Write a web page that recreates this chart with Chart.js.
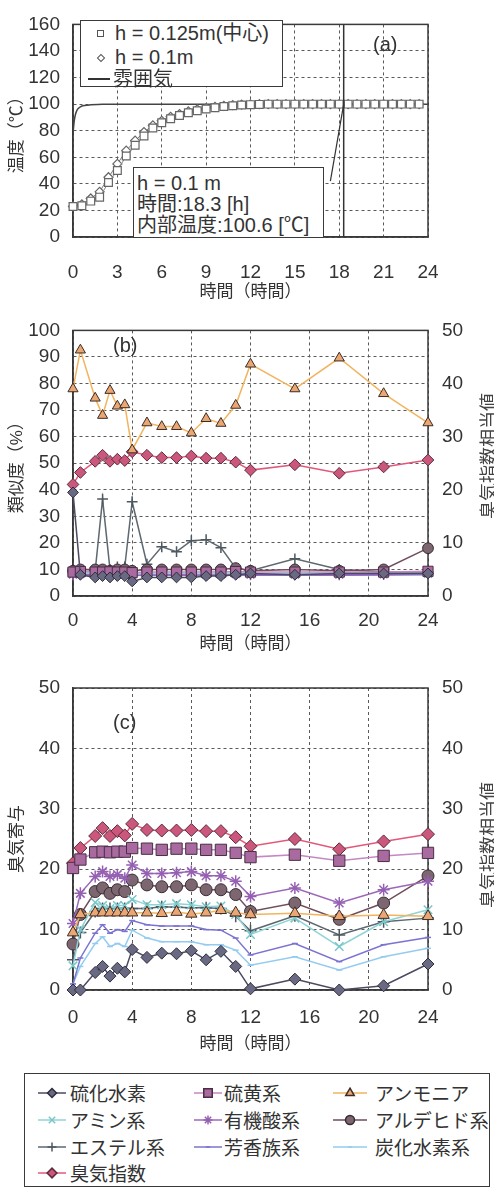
<!DOCTYPE html>
<html lang="ja"><head><meta charset="utf-8">
<script src="https://cdn.jsdelivr.net/npm/chart.js@4.4.1/dist/chart.umd.min.js"></script>
<style>
html,body{margin:0;padding:0;background:#fff;}
body{width:494px;height:1188px;position:relative;overflow:hidden;font-family:"Liberation Sans","Noto Sans CJK JP",sans-serif;color:#333;}
canvas{position:absolute;left:0;}
.abs{position:absolute;white-space:nowrap;line-height:22px;}
.box{position:absolute;background:#fff;border:1px solid #3a3a3a;box-sizing:border-box;}
.vt{position:absolute;white-space:nowrap;transform:translate(-50%,-50%) rotate(-90deg);font-size:18px;line-height:20px;font-family:"Noto Sans CJK JP",sans-serif;color:#444;}
.sq{position:absolute;width:7px;height:7px;border:1.2px solid #555;box-sizing:border-box;}
</style></head><body>
<canvas id="ca" width="494" height="305" style="top:0"></canvas>
<canvas id="cb" width="494" height="355" style="top:305px"></canvas>
<canvas id="cc" width="494" height="410" style="top:660px"></canvas>

<!-- panel (a) overlays -->
<div class="box" style="left:80px;top:20px;width:203px;height:67px;">
  <div class="sq" style="left:16px;top:9px;"></div>
  <div class="abs" style="left:34px;top:1px;font-size:20px;">h = 0.125m(中心)</div>
  <div class="sq" style="left:17px;top:34px;width:6px;height:6px;transform:rotate(45deg);"></div>
  <div class="abs" style="left:34px;top:25px;font-size:20px;">h = 0.1m</div>
  <div style="position:absolute;left:7px;top:57px;width:22px;height:1.5px;background:#333;"></div>
  <div class="abs" style="left:32px;top:47px;font-size:20px;">雰囲気</div>
</div>
<div class="box" style="left:133px;top:167px;width:191px;height:71px;">
  <div class="abs" style="left:3px;top:4px;font-size:20px;">h = 0.1 m</div>
  <div class="abs" style="left:3px;top:25px;font-size:20px;">時間:18.3 [h]</div>
  <div class="abs" style="left:3px;top:46px;font-size:20px;">内部温度:100.6 [℃]</div>
</div>
<div class="abs" style="left:373px;top:33px;font-size:20px;">(a)</div>
<div class="abs" style="left:113px;top:334px;font-size:20px;">(b)</div>
<div class="abs" style="left:113px;top:711px;font-size:20px;">(c)</div>
<div class="vt" style="left:487px;top:456px;">臭気指数相当値</div>
<div class="vt" style="left:487px;top:845px;">臭気指数相当値</div>
<div class="box" id="legend" style="left:24px;top:1073px;width:466px;height:114px;"></div>

<script>
// ---------- Panel (a): temperature ----------
const timeA = [0,0.6,1.2,1.8,2.4,3.0,3.6,4.2,4.8,5.4,6.0,6.6,7.2,7.8,8.4,9.0,9.6,10.2,10.8,11.4,12.0,12.6,13.2,13.8,14.4,15.0,15.6,16.2,16.8,17.4,18.0,18.6,19.2,19.8,20.4,21.0,21.6,22.2,22.8,23.4];
const tempCenter = [23,23.5,27,30,41,50,61,69,76,82,86,89,91.5,93.5,95,96.3,97.3,98.2,98.8,99.3,99.6,99.8,100,100,100,100,100,100,100,100,100,100,100,100,100,100,100,100,100,100];
const tempH01 = [23,24.5,29,34,45,55,65,72.5,79,84,87.5,90.5,92.5,94.5,96,97,98,98.7,99.2,99.6,99.8,100,100,100,100,100,100,100,100,100,100,100,100,100,100,100,100,100,100,100];
const timeAtm = [0,0.08,0.16,0.3,0.5,0.8,1.2,2,24];
const tempAtm = [78,87,92,96,98,99,99.5,100,100];
const markTime = 18.3;
const leaderFrom = [17.4, 42];
const leaderTo = [18.3, 100];

// ---------- Panels (b) and (c) ----------
const timeBC = [0,0.5,1.5,2,2.5,3,3.5,4,5,6,7,8,9,10,11,12,15,18,21,24];
const seriesNames = ['硫化水素','硫黄系','アンモニア','アミン系','有機酸系','アルデヒド系','エステル系','芳香族系','炭化水素系','臭気指数'];

// (b) similarity (%)
const simH2S      = [39,8,7,7.5,7,7.5,7.5,5.5,7,7,7,7,7.5,7.5,8,8.5,8,8.5,8.5,8.5];
const simSulfur   = [9,9.2,9,9,9.1,9,9,8.8,9,9,9,9,9,9,9.2,9,9,9,9,9.3];
const simAmmonia  = [78,92.6,74.5,68,77.4,71.5,72,55,65.2,63.8,63.8,61.4,66.8,65,71.8,87.3,78,89.6,76.2,65.2];
const simAmine    = [8.5,8.8,8.6,8.4,8.7,8.5,8.6,8.3,8.6,8.5,8.7,8.5,8.6,8.4,8.8,8.6,8.5,8.7,8.6,8.5];
const simOrganic  = [8,8.2,8,8,8.1,8,8,7.8,8,8,8,8,8,8,8.2,8,8,8,8.1,8.3];
const simAldehyde = [9.5,10,10,10,9.5,10,10,9.5,10,10,10,10,10,10,10.5,9.5,10,9.5,10,18];
const simEster    = [8.5,9,9.5,36.5,10,11,11,35.5,12,18.5,16.7,20.8,21.2,18.2,10.5,9.5,14,10,9,9];
const simAromatic = [7.8,7.9,7.8,7.8,7.9,7.8,7.8,7.7,7.8,7.8,7.8,7.8,7.8,7.8,7.9,7.8,7.8,7.8,7.9,8];
const simHydro    = [8.3,8.4,8.3,8.3,8.3,8.3,8.3,8.2,8.3,8.3,8.3,8.3,8.3,8.3,8.4,8.3,8.3,8.3,8.3,8.4];
const simOdor     = [42,46.5,50.7,53,50.7,51.5,51,54.3,53,52.1,52.1,52.7,51.9,51.9,50.4,47.4,49.4,46.2,48.6,51.2];

// (c) odour contribution
const conH2S      = [0,0,2.9,3.9,2.3,3.6,3.0,6.7,5.4,6.1,6.0,6.5,5.0,6.4,3.9,0.2,1.8,0,0.7,4.3];
const conSulfur   = [20.2,21.6,22.8,22.9,22.8,22.9,22.9,23.5,23.4,23.2,23.4,23.4,23.2,23.2,22.7,22.0,22.4,21.4,22.2,22.7];
const conAmmonia  = [9.5,12.5,12.8,12.8,12.8,12.8,12.8,12.8,12.8,12.7,12.9,12.6,12.8,13.2,12.8,12.5,12.7,12.2,12.4,12.2];
const conAmine    = [4,10,14.5,14,13.5,14,14,15,14.1,14.1,14.3,14.1,13.8,13.9,12.5,9.2,11.9,7.2,11.3,13.3];
const conOrganic  = [11,16,18.8,19.6,18.8,19.1,18.5,20.7,19.3,19.3,19.4,19.6,18.9,18.9,18.0,15.5,16.9,14.4,16.6,18.0];
const conAldehyde = [7.6,12.5,16.3,16.9,16.0,16.6,16.3,18.2,17.4,17.1,17.1,17.4,16.6,16.6,15.8,13.0,14.4,11.7,14.4,18.9];
const conEster    = [5,9.5,13,13.5,13.5,13.5,13.5,13.5,13.5,13.8,13.7,13.6,13.6,13.5,12.2,9.8,12.3,9.1,11.3,11.9];
const conAromatic = [1,5.3,9.4,10.8,9.4,10.0,9.7,11.5,10.8,10.6,10.6,10.6,10.0,9.9,8.6,5.8,7.7,4.7,7.5,8.7];
const conHydro    = [1,3.9,7.7,8.8,7.2,7.7,7.2,9.9,8.6,8.0,8.0,8.0,7.5,7.5,6.6,4.1,5.5,3.3,5.5,6.9];
const conOdor     = [21.0,23.5,25.5,26.8,25.5,26.3,25.6,27.5,26.5,26.4,26.4,26.5,26.3,26.3,25.3,23.8,25.0,23.3,24.6,25.8];

// ---------- styles ----------
const STY = [
  {line:'#4b4a60', fill:'#6a6983', bd:'#2d2c3a', style:'rectRot', r:6},
  {line:'#c489c2', fill:'#a86a9f', bd:'#4a2e46', style:'rect', r:8},
  {line:'#f2b45e', fill:'#eaa673', bd:'#3b2c26', style:'triangle', r:6.5},
  {line:'#8fd4d6', fill:'#8fd4d6', bd:'#79c6c9', style:'crossRot', r:6},
  {line:'#9d67b9', fill:'#9d67b9', bd:'#9560b2', style:'star', r:6},
  {line:'#6f4d5d', fill:'#7c6670', bd:'#3a2c33', style:'circle', r:6},
  {line:'#5d6870', fill:'#5d6870', bd:'#4d5860', style:'cross', r:6},
  {line:'#7b73d2', fill:'#7b73d2', bd:'#7b73d2', style:'line', r:3},
  {line:'#93ccf0', fill:'#93ccf0', bd:'#93ccf0', style:'line', r:3},
  {line:'#e2587a', fill:'#cc577c', bd:'#5c2a3c', style:'rectRot', r:6.5}
];

const FN = '"Liberation Sans", Arial, sans-serif';
const FJ = '"Liberation Sans", "Noto Sans CJK JP", sans-serif';
const AXC = '#3a3a3a', GRC = '#5a5a5a', TXC = '#333';

function pts(xs, ys){ return ys.map((y,i)=>({x:xs[i], y:y})); }

function xAxis(step, tickPad, titlePad, h){
  return {type:'linear', position:'bottom', min:0, max:24,
    ticks:{stepSize:step, padding:tickPad, color:TXC, font:{family:FN,size:19}, maxRotation:0, autoSkip:false},
    grid:{color:GRC, lineWidth:1, drawTicks:false},
    border:{display:true, color:AXC, width:1.5, dash:[3,3]},
    title:{display:true, text:'時間（時間）', color:TXC, font:{family:FJ,size:17}, padding:{top:0,bottom:titlePad}},
    afterFit(s){ s.height = h; }
  };
}
function yLeft(max, step, title){
  return {type:'linear', position:'left', min:0, max:max,
    ticks:{stepSize:step, padding:13, color:TXC, font:{family:FN,size:19}},
    grid:{color:GRC, lineWidth:1, drawTicks:false},
    border:{display:true, color:AXC, width:1.5, dash:[3,3]},
    title:{display:true, text:title, color:TXC, font:{family:FJ,size:17}, padding:{top:7,bottom:0}},
    afterFit(s){ s.width = 73; }
  };
}
function yRight(){
  return {type:'linear', position:'right', min:0, max:50,
    ticks:{stepSize:10, padding:14, color:TXC, font:{family:FN,size:19}},
    grid:{drawOnChartArea:false, drawTicks:false},
    border:{display:false},
    afterFit(s){ s.width = 66; }
  };
}

const framePlugin = {id:'frame', beforeDatasetsDraw(chart){
  const {ctx, chartArea:a} = chart;
  ctx.save(); ctx.strokeStyle = AXC; ctx.lineWidth = 1.5;
  ctx.strokeRect(a.left, a.top, a.right-a.left, a.bottom-a.top);
  ctx.restore();
}};

const annotA = {id:'annotA', afterDatasetsDraw(chart){
  const {ctx, scales:{x,y}, chartArea:a} = chart;
  ctx.save(); ctx.strokeStyle = '#333'; ctx.lineWidth = 1.5;
  const vx = x.getPixelForValue(markTime);
  ctx.beginPath(); ctx.moveTo(vx, a.top); ctx.lineTo(vx, a.bottom); ctx.stroke();
  ctx.lineWidth = 1.2;
  ctx.beginPath();
  ctx.moveTo(x.getPixelForValue(leaderFrom[0]), y.getPixelForValue(leaderFrom[1]));
  ctx.lineTo(x.getPixelForValue(leaderTo[0]), y.getPixelForValue(leaderTo[1]));
  ctx.stroke(); ctx.restore();
}};

const common = (pad) => ({responsive:false, animation:false, events:[],
  layout:{padding:pad},
  plugins:{legend:{display:false}, tooltip:{enabled:false}}});

// Panel (a)
new Chart(document.getElementById('ca'), {
  type:'line',
  data:{datasets:[
    {label:'h = 0.125m(中心)', data:pts(timeA,tempCenter), borderColor:'#8a8a8a', borderWidth:1,
     pointStyle:'rect', pointRadius:5.5, pointBorderColor:'#666', pointBackgroundColor:'#fff', pointBorderWidth:1.2, clip:false},
    {label:'h = 0.1m', data:pts(timeA,tempH01), borderColor:'#7a7a7a', borderWidth:1,
     pointStyle:'rectRot', pointRadius:4.5, pointBorderColor:'#666', pointBackgroundColor:'#fff', pointBorderWidth:1.2, clip:false},
    {label:'雰囲気', data:pts(timeAtm,tempAtm), borderColor:'#444', borderWidth:1.5, pointRadius:0, cubicInterpolationMode:'monotone'}
  ]},
  options:Object.assign(common({left:0,top:14,right:66,bottom:0}), {
    scales:{x:xAxis(3,24,2.4,68), y:yLeft(160,20,'温度（℃）')}
  }),
  plugins:[framePlugin, annotA]
});

function makeSets(arrs, scale){
  return arrs.map((arr,i)=>{
    const s = STY[i];
    return {label:seriesNames[i], data:pts(timeBC,arr), borderColor:s.line, borderWidth:1.5,
      pointStyle:s.style, pointRadius:s.r*scale, pointBackgroundColor:s.fill, pointBorderColor:s.bd,
      pointBorderWidth:(s.style==='cross'||s.style==='crossRot'||s.style==='star'||s.style==='line')?1.5:1,
      clip:false};
  });
}

// Panel (b)
new Chart(document.getElementById('cb'), {
  type:'line',
  data:{datasets:makeSets([simH2S,simSulfur,simAmmonia,simAmine,simOrganic,simAldehyde,simEster,simAromatic,simHydro,simOdor], 0.9)},
  options:Object.assign(common({left:0,top:12,right:0,bottom:0}), {
    scales:{x:xAxis(4,13,5.4,64), y:yLeft(100,10,'類似度（%）'), y2:yRight()}
  }),
  plugins:[framePlugin]
});

// Panel (c)
new Chart(document.getElementById('cc'), {
  type:'line',
  data:{datasets:makeSets([conH2S,conSulfur,conAmmonia,conAmine,conOrganic,conAldehyde,conEster,conAromatic,conHydro,conOdor], 1)},
  options:Object.assign(common({left:0,top:28,right:0,bottom:0}), {
    scales:{x:xAxis(4,16,15.4,80), y:yLeft(50,10,'臭気寄与'), y2:yRight()}
  }),
  plugins:[framePlugin]
});

// ---------- bottom legend ----------
(function(){
  const box = document.getElementById('legend');
  const colSym = [13, 169, 308], colTxt = [45, 199, 350], symW = [28, 28, 34];
  const rowY = [19, 46, 73, 99];
  seriesNames.forEach((name,i)=>{
    const col = i % 3, row = Math.floor(i/3), s = STY[i];
    const cv = document.createElement('canvas');
    cv.width = symW[col]; cv.height = 16;
    cv.style.cssText = 'position:absolute;left:'+colSym[col]+'px;top:'+(rowY[row]-8)+'px;';
    box.appendChild(cv);
    const c = cv.getContext('2d');
    c.strokeStyle = s.line; c.lineWidth = 1.5;
    c.beginPath(); c.moveTo(0,8); c.lineTo(cv.width,8); c.stroke();
    c.fillStyle = s.fill; c.strokeStyle = s.bd;
    if (Chart.helpers && Chart.helpers.drawPoint) {
      Chart.helpers.drawPoint(c, {pointStyle:s.style, rotation:0, radius:s.r*0.75,
        borderWidth:(s.style==='cross'||s.style==='crossRot'||s.style==='star'||s.style==='line')?1.5:1}, cv.width/2, 8);
    }
    const t = document.createElement('div');
    t.className = 'abs';
    t.style.cssText = 'left:'+colTxt[col]+'px;top:'+(rowY[row]-12)+'px;font-size:19px;line-height:24px;font-family:"Noto Sans CJK JP",sans-serif;color:#333;';
    t.textContent = name;
    box.appendChild(t);
  });
})();
</script>
</body></html>
